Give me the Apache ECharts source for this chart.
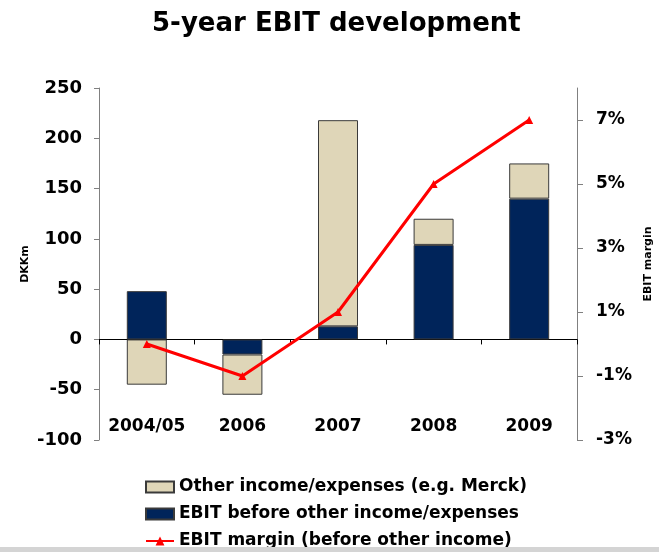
<!DOCTYPE html>
<html>
<head>
<meta charset="utf-8">
<script src="https://cdn.jsdelivr.net/npm/echarts@6/dist/echarts.min.js"></script>
<style>
  html, body { margin: 0; padding: 0; background: #fff; }
  #chart { width: 659px; height: 552px; }
</style>
</head>
<body>
<div id="chart"></div>
<script>
// years shown on the x axis
const years = ['2004/05', '2006', '2007', '2008', '2009']
// EBIT before other income/expenses, DKKm
const ebitBefore = [48, -15, 13, 94, 140]
// other income/expenses (stacked on top), DKKm
const otherIncome = [-45, -40, 205, 26, 35]
// EBIT margin, %
const ebitMargin = [0, -1, 1, 5, 7]
// labels shown on the right axis
const marginTicks = [-3, -1, 1, 3, 5, 7]

const font = 'DejaVu Sans, Arial, sans-serif'
const names = ['Other income/expenses (e.g. Merck)', 'EBIT before other income/expenses', 'EBIT margin (before other income)']
const chart = echarts.init(document.getElementById('chart'))

// one legend per row, so they stack like the original
const legends = names.map((n, i) => ({
    left: 145,
    top: 478 + i * 27,
    itemWidth: 28,
    itemHeight: 11,
    itemGap: 4,
    padding: 0,
    icon: i < 2 ? 'rect' : undefined,
    data: [n],
    textStyle: { fontFamily: font, fontSize: 17, fontWeight: 'bold', color: '#000', lineHeight: 18 }
}))

const option = {
    backgroundColor: '#fff',
    animation: false,
    title: {
        text: '5-year EBIT development',
        left: 147,
        top: 6,
        textStyle: { fontFamily: font, fontSize: 26, fontWeight: 'bold', color: '#000' }
    },
    legend: legends,
    grid: { left: 99, right: 82, top: 88, bottom: 112, outerBoundsMode: 'none' },
    xAxis: [
        {
            // axis line running along zero
            type: 'category',
            data: years,
            axisLine: { onZero: true, onZeroAxisIndex: 0, lineStyle: { color: '#000', width: 1 } },
            axisTick: { show: true, length: 5, lineStyle: { color: '#000' } },
            axisLabel: { show: false },
            splitLine: { show: false }
        },
        {
            // labels only, near the bottom of the plot
            type: 'category',
            data: years,
            position: 'bottom',
            axisLine: { show: false, onZero: false },
            axisTick: { show: false },
            axisLabel: { inside: true, interval: 0, hideOverlap: false, margin: 5, fontFamily: font, fontSize: 17, fontWeight: 'bold', color: '#000' },
            splitLine: { show: false }
        }
    ],
    yAxis: [
        {
            type: 'value',
            min: -100,
            max: 250,
            interval: 50,
            name: 'DKKm',
            nameLocation: 'middle',
            nameRotate: 90,
            nameGap: 68,
            nameMoveOverlap: false,
            nameTextStyle: { fontFamily: font, fontSize: 11, fontWeight: 'bold', color: '#000' },
            axisLine: { show: true, lineStyle: { color: '#808080' } },
            axisTick: { show: true, length: 5, lineStyle: { color: '#808080' } },
            axisLabel: { margin: 17, fontFamily: font, fontSize: 18, fontWeight: 'bold', color: '#000' },
            splitLine: { show: false }
        },
        {
            type: 'value',
            position: 'right',
            min: -3,
            max: 8,
            interval: 1,
            name: 'EBIT margin',
            nameLocation: 'middle',
            nameRotate: 90,
            nameGap: 66,
            nameMoveOverlap: false,
            nameTextStyle: { fontFamily: font, fontSize: 11, fontWeight: 'bold', color: '#000' },
            axisLine: { show: true, lineStyle: { color: '#808080' } },
            axisTick: { show: true, length: 6, customValues: marginTicks, lineStyle: { color: '#808080' } },
            axisLabel: { margin: 19, customValues: marginTicks, formatter: '{value}%', fontFamily: font, fontSize: 17, fontWeight: 'bold', color: '#000' },
            splitLine: { show: false }
        }
    ],
    series: [
        {
            name: names[1],
            type: 'bar',
            stack: 'ebit',
            barWidth: 40,
            data: ebitBefore,
            itemStyle: { color: '#00245a', borderColor: '#3a3a3a', borderWidth: 1 }
        },
        {
            name: names[0],
            type: 'bar',
            stack: 'ebit',
            barWidth: 40,
            data: otherIncome,
            itemStyle: { color: '#dfd6b8', borderColor: '#3a3a3a', borderWidth: 1 }
        },
        {
            name: names[2],
            type: 'line',
            yAxisIndex: 1,
            data: ebitMargin,
            symbol: 'triangle',
            symbolSize: 8,
            lineStyle: { color: '#ff0000', width: 3 },
            itemStyle: { color: '#ff0000' },
            z: 5
        }
    ],
    graphic: [
        {
            type: 'rect',
            left: 0,
            top: 547,
            shape: { width: 659, height: 5 },
            style: { fill: '#d4d4d4' },
            z: 100
        }
    ]
}

chart.setOption(option)
</script>
</body>
</html>
